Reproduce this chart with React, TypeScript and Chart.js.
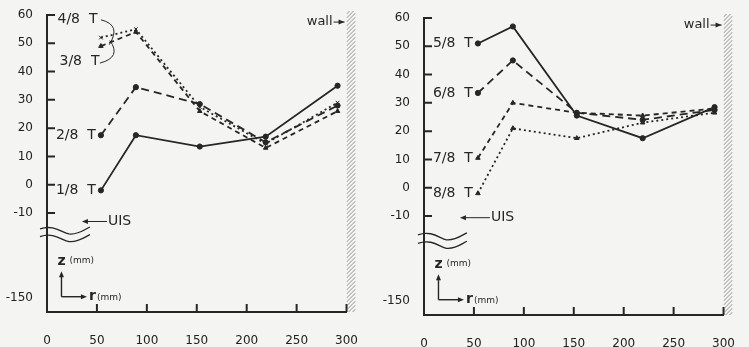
import React, { useEffect, useRef } from 'react';
import { Chart, registerables } from 'chart.js';
Chart.register(...registerables);

// ---- data (r in mm, z in mm) ----
const radii = [54, 89, 153, 219, 291];
const z1of8 = [-2, 17.5, 13.5, 17, 35];
const z2of8 = [17.5, 34.5, 28.5, 15, 28];
const z3of8 = [49, 54, 26, 13, 26];
const z4of8 = [52, 55, 27.5, 14.5, 29];
const z5of8 = [51, 57, 25.5, 17.5, 28.5];
const z6of8 = [33.5, 45, 26.5, 24, 27.5];
const z7of8 = [10.5, 30, 26.5, 25.5, 28];
const z8of8 = [-2, 21, 17.5, 23, 26.5];
const xTickValues = [0, 50, 100, 150, 200, 250, 300];
const yTickValues = [-10, 0, 10, 20, 30, 40, 50, 60];
const breakTickValue = -40;
const breakTickLabel = '-150';

const INK = '#262626';
const FONT = '"DejaVu Sans", "Liberation Sans", sans-serif';

type Series = { name: string; values: number[]; dash: number[]; point: string; label?: 'first' | 'fixed'; fixed?: { r: number; z: number; curve: number[] } };
type PanelCfg = { left: number; width: number; padTop: number; padRight: number; yWidth: number; xHeight: number; series: Series[]; uisZ: number; uisFrom: number; uisTo: number; wiggle: number[]; wiggleStart: number };

const leftPanel: PanelCfg = {
  left: 0, width: 372, padTop: 15, padRight: 12, yWidth: 47, xHeight: 35,
  uisZ: -13, uisFrom: 60, uisTo: 35, wiggle: [-16, -18.7], wiggleStart: 7,
  series: [
    { name: '1/8 T', values: z1of8, dash: [], point: 'circle', label: 'first' },
    { name: '2/8 T', values: z2of8, dash: [8, 5], point: 'circle', label: 'first' },
    { name: '3/8 T', values: z3of8, dash: [5, 4], point: 'triangle', label: 'fixed', fixed: { r: 12.5, z: 43.5, curve: [53, 43, 75, 45, 63, 51] } },
    { name: '4/8 T', values: z4of8, dash: [2, 3], point: 'crossRot', label: 'fixed', fixed: { r: 10.5, z: 58.3, curve: [54, 58.3, 75, 56.5, 62.3, 49.5] } },
  ],
};
const rightPanel: PanelCfg = {
  left: 375, width: 374, padTop: 18, padRight: 12, yWidth: 49, xHeight: 32,
  uisZ: -10.6, uisFrom: 66, uisTo: 36, wiggle: [-17, -20], wiggleStart: 6,
  series: [
    { name: '5/8 T', values: z5of8, dash: [], point: 'circle', label: 'first' },
    { name: '6/8 T', values: z6of8, dash: [8, 5], point: 'circle', label: 'first' },
    { name: '7/8 T', values: z7of8, dash: [5, 4], point: 'triangle', label: 'first' },
    { name: '8/8 T', values: z8of8, dash: [2, 3], point: 'triangle', label: 'first' },
  ],
};

function overlay(cfg: PanelCfg) {
  return {
    id: 'overlay',
    afterDraw(chart: any) {
      const ctx: CanvasRenderingContext2D = chart.ctx;
      const a = chart.chartArea;
      const xs = chart.scales.x, ys = chart.scales.y;
      const X = (v: number) => xs.getPixelForValue(v);
      const Y = (v: number) => ys.getPixelForValue(v);
      const seg = (x1: number, y1: number, x2: number, y2: number) => { ctx.beginPath(); ctx.moveTo(x1, y1); ctx.lineTo(x2, y2); ctx.stroke(); };
      const head = (x: number, y: number, dir: 'l' | 'r' | 'u') => {
        ctx.beginPath();
        if (dir === 'l') { ctx.moveTo(x, y); ctx.lineTo(x + 6, y - 2.5); ctx.lineTo(x + 6, y + 2.5); }
        if (dir === 'r') { ctx.moveTo(x, y); ctx.lineTo(x - 6, y - 2.5); ctx.lineTo(x - 6, y + 2.5); }
        if (dir === 'u') { ctx.moveTo(x, y); ctx.lineTo(x - 2.5, y + 6); ctx.lineTo(x + 2.5, y + 6); }
        ctx.closePath(); ctx.fill();
      };
      ctx.save();
      ctx.setLineDash([]);
      ctx.strokeStyle = INK; ctx.fillStyle = INK;
      // inward tick marks
      ctx.lineWidth = 2;
      ctx.beginPath();
      for (const v of yTickValues) { const y = Y(v); ctx.moveTo(a.left, y); ctx.lineTo(a.left + 8, y); }
      for (const v of xTickValues) { if (v === 0) continue; const x = X(v); ctx.moveTo(x, a.bottom); ctx.lineTo(x, a.bottom - 8); }
      ctx.stroke();
      // wall hatching
      ctx.save();
      ctx.beginPath(); ctx.rect(a.right, a.top - 4, 9, a.bottom - a.top + 4); ctx.clip();
      ctx.strokeStyle = '#777'; ctx.lineWidth = 0.8;
      for (let y = a.top - 10; y < a.bottom + 12; y += 4) seg(a.right, y + 9, a.right + 9, y);
      ctx.restore();
      // wall label
      ctx.font = `13px ${FONT}`; ctx.textAlign = 'right'; ctx.textBaseline = 'middle';
      ctx.fillText('wall', X(286), Y(57.5));
      ctx.lineWidth = 1; seg(X(287), Y(57.5), X(298), Y(57.5)); head(X(298), Y(57.5), 'r');
      // series labels
      cfg.series.forEach(s => {
        ctx.font = `14px ${FONT}`; ctx.textBaseline = 'middle';
        if (s.label === 'first') {
          ctx.textAlign = 'right';
          ctx.fillText(s.name.replace(' ', '  '), X(radii[0]) - 5, Y(s.values[0]));
        } else if (s.fixed) {
          ctx.textAlign = 'left';
          ctx.fillText(s.name.replace(' ', '  '), X(s.fixed.r), Y(s.fixed.z));
          const c = s.fixed.curve;
          ctx.lineWidth = 1;
          ctx.beginPath(); ctx.moveTo(X(c[0]), Y(c[1])); ctx.quadraticCurveTo(X(c[2]), Y(c[3]), X(c[4]), Y(c[5])); ctx.stroke();
        }
      });
      // UIS
      ctx.lineWidth = 1;
      seg(X(cfg.uisTo) + 3, Y(cfg.uisZ), X(cfg.uisFrom), Y(cfg.uisZ));
      head(X(cfg.uisTo), Y(cfg.uisZ), 'l');
      ctx.font = `14px ${FONT}`; ctx.textAlign = 'left';
      ctx.fillText('UIS', X(cfg.uisFrom) + 1, Y(cfg.uisZ));
      // axis break wiggles
      ctx.lineWidth = 1.3;
      cfg.wiggle.forEach(z => {
        const y = Y(z), x0 = a.left - cfg.wiggleStart, x1 = X(43);
        ctx.beginPath(); ctx.moveTo(x0, y - 1);
        ctx.bezierCurveTo(x0 + 14, y - 6, x0 + 22, y + 3, (x0 + x1) / 2 + 4, y + 4);
        ctx.bezierCurveTo(x1 - 12, y + 5, x1 - 6, y, x1, y - 3);
        ctx.stroke();
      });
      // z / r coordinate key
      const ox = X(14.5), oy = Y(-39.6);
      ctx.lineWidth = 1.4;
      seg(ox, oy, ox, Y(-30.6) + 3); head(ox, Y(-30.6), 'u');
      seg(ox, oy, X(40) - 3, oy); head(X(40), oy, 'r');
      ctx.textBaseline = 'middle'; ctx.textAlign = 'left';
      ctx.font = `bold 14px ${FONT}`; ctx.fillText('z', ox - 4, Y(-27.2));
      ctx.font = `9px ${FONT}`; ctx.fillText('(mm)', ox + 8, Y(-27.0));
      ctx.font = `bold 14px ${FONT}`; ctx.fillText('r', X(42), oy);
      ctx.font = `9px ${FONT}`; ctx.fillText('(mm)', X(42) + 8, oy + 1);
      ctx.restore();
    },
  };
}

function Panel({ cfg }: { cfg: PanelCfg }) {
  const ref = useRef<HTMLCanvasElement>(null);
  useEffect(() => {
    const chart = new Chart(ref.current as HTMLCanvasElement, {
      type: 'line',
      data: {
        datasets: cfg.series.map(s => ({
          label: s.name,
          data: radii.map((r, i) => ({ x: r, y: s.values[i] })),
          borderColor: INK, backgroundColor: INK, borderWidth: 1.8, borderDash: s.dash,
          pointRadius: 2.6, pointStyle: s.point as any, pointBorderWidth: 1, tension: 0,
        })),
      },
      options: {
        responsive: false, animation: false,
        layout: { padding: { top: cfg.padTop, right: cfg.padRight, left: 0, bottom: 0 } },
        plugins: { legend: { display: false }, tooltip: { enabled: false } },
        scales: {
          x: {
            type: 'linear', min: 0, max: 300,
            afterBuildTicks: (s: any) => { s.ticks = xTickValues.map(v => ({ value: v })); },
            afterFit: (s: any) => { s.height = cfg.xHeight; },
            grid: { display: false }, border: { display: true, color: INK, width: 2 },
            ticks: { padding: 14, color: '#222', font: { family: FONT, size: 12 }, autoSkip: false, maxRotation: 0, callback: (v: any) => String(v) },
          },
          y: {
            type: 'linear', min: -45, max: 60,
            afterBuildTicks: (s: any) => { s.ticks = [breakTickValue, ...yTickValues].map(v => ({ value: v })); },
            afterFit: (s: any) => { s.width = cfg.yWidth; },
            grid: { display: false }, border: { display: true, color: INK, width: 2 },
            ticks: { padding: 6, color: '#222', font: { family: FONT, size: 12 }, autoSkip: false, callback: (v: any) => (v === breakTickValue ? breakTickLabel : String(v)) },
          },
        },
      },
      plugins: [overlay(cfg) as any],
    });
    return () => chart.destroy();
  }, []);
  return <canvas ref={ref} width={cfg.width} height={347} style={{ position: 'absolute', left: cfg.left, top: 0 }} />;
}

export default function App() {
  return (
    <div style={{ position: 'fixed', left: 0, top: 0, width: 749, height: 347, background: '#f4f4f2', overflow: 'hidden' }}>
      <Panel cfg={leftPanel} />
      <Panel cfg={rightPanel} />
    </div>
  );
}
